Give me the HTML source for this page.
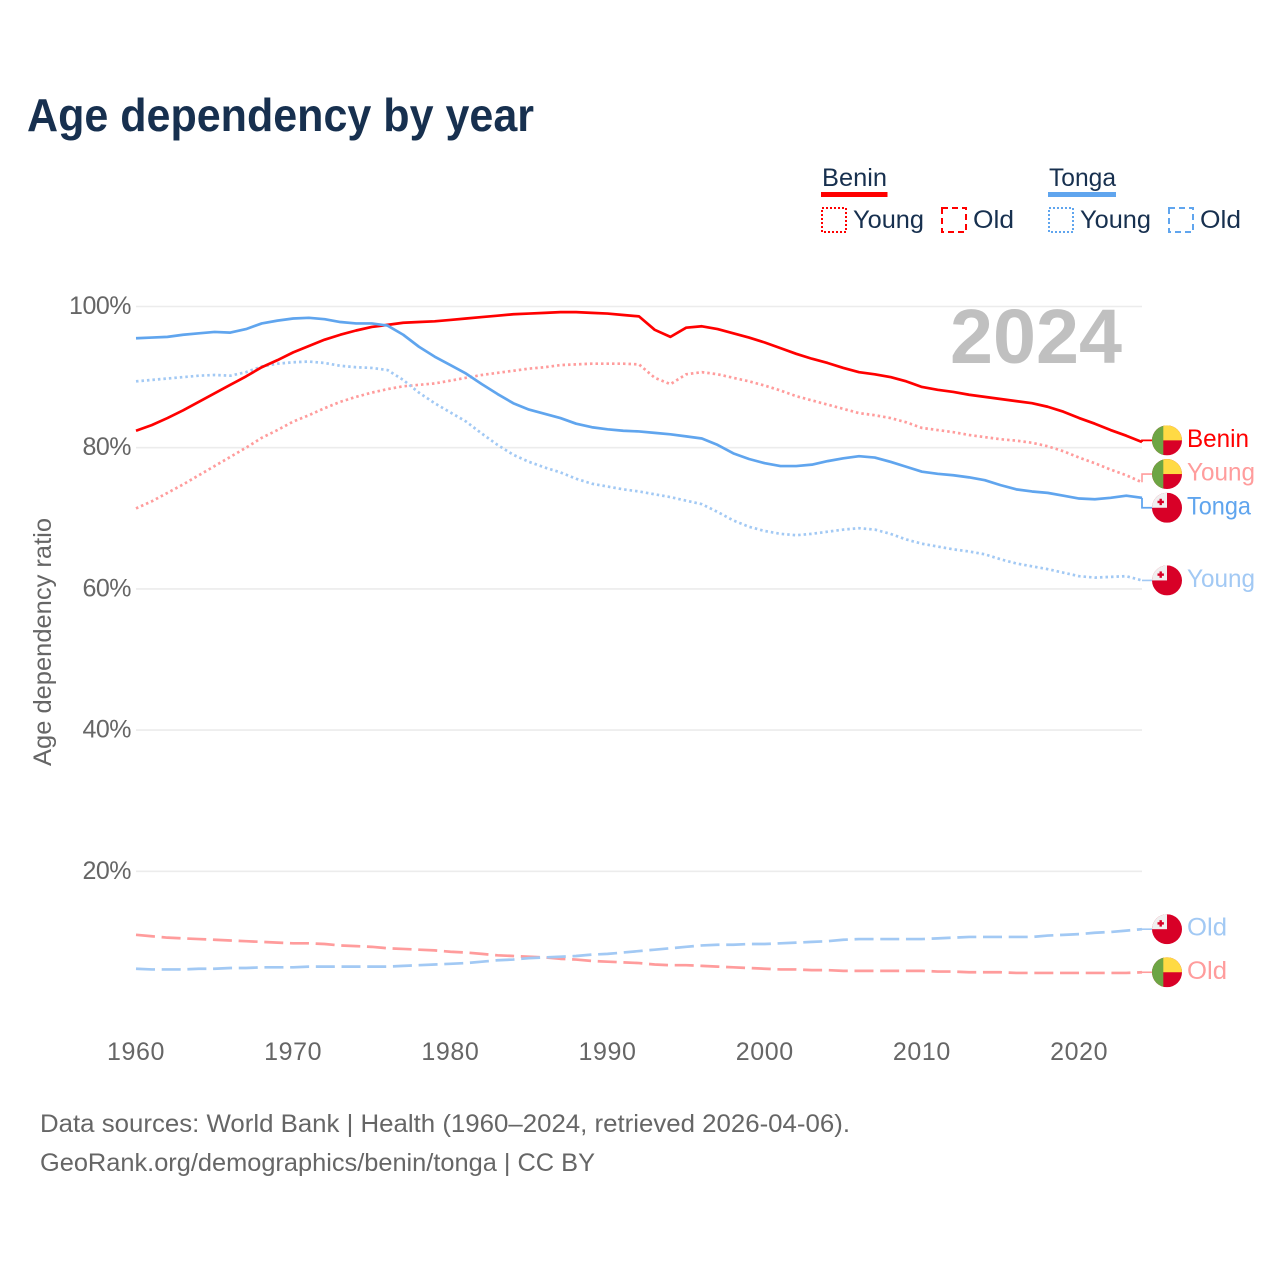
<!DOCTYPE html>
<html lang="en">
<head>
<meta charset="utf-8">
<title>Age dependency by year</title>
<style>
html,body{margin:0;padding:0;background:#fff;}
svg{display:block;font-family:"Liberation Sans",sans-serif;}
.legend-text{font-size:25px;fill:#17304f;}
.tick{font-size:25px;fill:#666;}
.foot{font-size:25px;fill:#666;}
.direct{font-size:25px;}
</style>
</head>
<body>
<svg id="chart" width="1280" height="1280" viewBox="0 0 1280 1280" xmlns="http://www.w3.org/2000/svg">
  <defs>
    <clipPath id="flag-clip"><circle cx="0" cy="0" r="15"/></clipPath>
  </defs>
  <rect width="1280" height="1280" fill="#fff"/>
  <text x="27" y="131" font-size="46" font-weight="700" fill="#17304f" textLength="507" lengthAdjust="spacingAndGlyphs">Age dependency by year</text>

  <g>
    <text class="legend-text" x="822" y="186" textLength="65" lengthAdjust="spacingAndGlyphs">Benin</text>
    <rect x="821" y="192" width="66.5" height="5" fill="#ff0000"/>
    <rect x="822" y="208" width="24" height="24" fill="none" stroke="#ff0000" stroke-width="2" stroke-dasharray="2 2"/>
    <text class="legend-text" x="853" y="228" textLength="71" lengthAdjust="spacingAndGlyphs">Young</text>
    <rect x="942" y="208" width="24" height="24" fill="none" stroke="#ff0000" stroke-width="2" stroke-dasharray="6 4"/>
    <text class="legend-text" x="973" y="228" textLength="41" lengthAdjust="spacingAndGlyphs">Old</text>

    <text class="legend-text" x="1049" y="186" textLength="67" lengthAdjust="spacingAndGlyphs">Tonga</text>
    <rect x="1048" y="192" width="68" height="5" fill="#60a5ee"/>
    <rect x="1049" y="208" width="24" height="24" fill="none" stroke="#60a5ee" stroke-width="2" stroke-dasharray="2 2"/>
    <text class="legend-text" x="1080" y="228" textLength="71" lengthAdjust="spacingAndGlyphs">Young</text>
    <rect x="1169" y="208" width="24" height="24" fill="none" stroke="#60a5ee" stroke-width="2" stroke-dasharray="6 4"/>
    <text class="legend-text" x="1200" y="228" textLength="41" lengthAdjust="spacingAndGlyphs">Old</text>
  </g>

  <g id="grid"></g>
  <g id="yticks"></g>
  <g id="xticks"></g>
  <text class="tick" transform="translate(51,642) rotate(-90)" text-anchor="middle" textLength="248" lengthAdjust="spacingAndGlyphs">Age dependency ratio</text>
  <text x="950" y="363" font-size="77" font-weight="700" fill="#c0c0c0" textLength="172" lengthAdjust="spacingAndGlyphs">2024</text>

  <g id="series"></g>
  <g id="labels"></g>

  <text class="foot" x="40" y="1132" textLength="810" lengthAdjust="spacingAndGlyphs">Data sources: World Bank | Health (1960–2024, retrieved 2026-04-06).</text>
  <text class="foot" x="40" y="1171" textLength="555" lengthAdjust="spacingAndGlyphs">GeoRank.org/demographics/benin/tonga | CC BY</text>
</svg>
<script>
const startYear = 1960;
const yTickValues = [20, 40, 60, 80, 100];
const xTickValues = [1960, 1970, 1980, 1990, 2000, 2010, 2020];

const beninTotal = [82.4,83.2,84.2,85.3,86.5,87.7,88.9,90.1,91.4,92.4,93.5,94.4,95.3,96.0,96.6,97.1,97.4,97.7,97.8,97.9,98.1,98.3,98.5,98.7,98.9,99.0,99.1,99.2,99.2,99.1,99.0,98.8,98.6,96.7,95.7,97.0,97.2,96.8,96.2,95.6,94.9,94.1,93.3,92.6,92.0,91.3,90.7,90.4,90.0,89.4,88.6,88.2,87.9,87.5,87.2,86.9,86.6,86.3,85.8,85.1,84.2,83.4,82.5,81.7,80.8];
const beninYoung = [71.4,72.4,73.6,74.8,76.1,77.4,78.7,80.0,81.4,82.5,83.7,84.6,85.6,86.5,87.2,87.8,88.3,88.7,88.9,89.1,89.5,89.9,90.3,90.6,90.9,91.2,91.4,91.7,91.8,91.9,91.9,91.9,91.8,89.9,89.0,90.4,90.7,90.4,89.9,89.4,88.8,88.1,87.3,86.7,86.1,85.5,84.9,84.6,84.2,83.6,82.8,82.5,82.2,81.8,81.5,81.2,81.0,80.7,80.2,79.5,78.6,77.8,76.9,76.1,75.1];
const beninOld = [11.0,10.8,10.6,10.5,10.4,10.3,10.2,10.1,10.0,9.9,9.8,9.8,9.7,9.5,9.4,9.3,9.1,9.0,8.9,8.8,8.6,8.5,8.3,8.1,8.0,7.9,7.8,7.6,7.5,7.3,7.2,7.1,7.0,6.8,6.7,6.7,6.6,6.5,6.4,6.3,6.2,6.1,6.1,6.0,6.0,5.9,5.9,5.9,5.9,5.9,5.9,5.8,5.8,5.7,5.7,5.7,5.6,5.6,5.6,5.6,5.6,5.6,5.6,5.6,5.7];
const tongaTotal = [95.5,95.6,95.7,96.0,96.2,96.4,96.3,96.8,97.6,98.0,98.3,98.4,98.2,97.8,97.6,97.6,97.3,96.0,94.3,92.9,91.7,90.5,89.0,87.6,86.3,85.4,84.8,84.2,83.4,82.9,82.6,82.4,82.3,82.1,81.9,81.6,81.3,80.4,79.2,78.4,77.8,77.4,77.4,77.6,78.1,78.5,78.8,78.6,78.0,77.3,76.6,76.3,76.1,75.8,75.4,74.7,74.1,73.8,73.6,73.2,72.8,72.7,72.9,73.2,72.9];
const tongaYoung = [89.4,89.6,89.8,90.0,90.2,90.3,90.2,90.7,91.5,91.9,92.1,92.2,92.0,91.6,91.4,91.3,91.0,89.6,87.8,86.3,85.0,83.7,82.0,80.4,79.0,78.0,77.2,76.5,75.6,74.9,74.5,74.1,73.8,73.4,73.0,72.5,72.0,70.9,69.7,68.8,68.2,67.8,67.6,67.8,68.1,68.4,68.6,68.4,67.8,67.0,66.4,66.0,65.6,65.3,64.9,64.2,63.6,63.2,62.8,62.3,61.8,61.6,61.7,61.8,61.2];
const tongaOld = [6.2,6.1,6.1,6.1,6.2,6.2,6.3,6.3,6.4,6.4,6.4,6.5,6.5,6.5,6.5,6.5,6.5,6.6,6.7,6.8,6.9,7.0,7.2,7.4,7.5,7.7,7.8,7.9,8.0,8.2,8.3,8.5,8.7,8.9,9.1,9.3,9.5,9.6,9.6,9.7,9.7,9.8,9.9,10.0,10.1,10.3,10.4,10.4,10.4,10.4,10.4,10.5,10.6,10.7,10.7,10.7,10.7,10.7,10.9,11.0,11.1,11.3,11.4,11.6,11.8];

const SVGNS = 'http://www.w3.org/2000/svg';
function xScale(year) { return 136 + (year - 1960) * (1006 / 64); }
function yScale(v) { return 1012.5 - v * 7.06; }
function make(tag, attrs, parent) {
  const el = document.createElementNS(SVGNS, tag);
  for (const k in attrs) el.setAttribute(k, attrs[k]);
  parent.appendChild(el);
  return el;
}
const gridG = document.getElementById('grid');
const yTickG = document.getElementById('yticks');
const xTickG = document.getElementById('xticks');
const seriesG = document.getElementById('series');
const labelsG = document.getElementById('labels');

yTickValues.forEach(function (v) {
  const line = make('line', {x1: 136, x2: 1142, y1: yScale(v), y2: yScale(v), stroke: '#ececec', 'stroke-width': 1.6}, gridG);
  
  
  const t = make('text', {x: 131, y: yScale(v) + 7.5, 'text-anchor': 'end', class: 'tick', 'letter-spacing': '-0.5'}, yTickG);
  t.textContent = v + '%';
  
  
});
xTickValues.forEach(function (yr) {
  const t = make('text', {x: xScale(yr), y: 1060, 'text-anchor': 'middle', class: 'tick', 'letter-spacing': '0.6'}, xTickG);
  t.textContent = yr;
  
  
});

const RED = '#ff0000', BLUE = '#60a5ee', PALE_RED = '#ff9c9c', PALE_BLUE = '#a2c9f4';
const DOT = '2.5 3', DASH = '19 6.7';
const seriesList = [
  {key: 'benin-young', label: 'Young', values: beninYoung, color: PALE_RED, dash: DOT, flag: 'benin'},
  {key: 'benin-old', label: 'Old', values: beninOld, color: PALE_RED, dash: DASH, flag: 'benin'},
  {key: 'tonga-young', label: 'Young', values: tongaYoung, color: PALE_BLUE, dash: DOT, flag: 'tonga'},
  {key: 'tonga-old', label: 'Old', values: tongaOld, color: PALE_BLUE, dash: DASH, flag: 'tonga'},
  {key: 'benin-total', label: 'Benin', values: beninTotal, color: RED, dash: '', flag: 'benin'},
  {key: 'tonga-total', label: 'Tonga', values: tongaTotal, color: BLUE, dash: '', flag: 'tonga'}
];

seriesList.forEach(function (s) {
  const pts = s.values.map(function (v, i) { return xScale(startYear + i).toFixed(2) + ',' + yScale(v).toFixed(2); }).join(' ');
  const attrs = {points: pts, fill: 'none', stroke: s.color, 'stroke-width': 2.7, 'stroke-linejoin': 'round'};
  if (s.dash) attrs['stroke-dasharray'] = s.dash;
  const line = make('polyline', attrs, seriesG);
  
  
});

/* push end labels apart: merge overlapping clusters around their mean */
function dodge(items, gap) {
  let clusters = items.slice().sort(function (a, b) { return a.target - b.target; })
    .map(function (it) { return {items: [it], mean: it.target}; });
  let merged = true;
  while (merged) {
    merged = false;
    for (let i = 0; i < clusters.length - 1; i++) {
      const a = clusters[i], b = clusters[i + 1];
      const aEnd = a.mean + (a.items.length - 1) * gap / 2;
      const bStart = b.mean - (b.items.length - 1) * gap / 2;
      if (bStart - aEnd < gap) {
        const all = a.items.concat(b.items);
        const mean = all.reduce(function (sum, it) { return sum + it.target; }, 0) / all.length;
        clusters.splice(i, 2, {items: all, mean: mean});
        merged = true;
        break;
      }
    }
  }
  clusters.forEach(function (c) {
    c.items.forEach(function (it, i) { it.y = c.mean + (i - (c.items.length - 1) / 2) * gap; });
  });
}

const labelWidth = {Benin: 62, Young: 68, Tonga: 64, Old: 40};
const endItems = seriesList.map(function (s) {
  return {s: s, target: yScale(s.values[s.values.length - 1])};
});
dodge(endItems, 33.7);

function drawFlag(kind, cx, cy, parent) {
  const g = make('g', {transform: 'translate(' + cx + ',' + cy + ')', 'clip-path': 'url(#flag-clip)'}, parent);
  if (kind === 'benin') {
    
    
    make('rect', {x: -15, y: -15, width: 30, height: 30, fill: '#d80027'}, g);
    make('rect', {x: -4, y: -15, width: 19, height: 15, fill: '#ffda44'}, g);
    make('rect', {x: -15, y: -15, width: 11.3, height: 30, fill: '#6da544'}, g);
  } else {
    
    
    make('rect', {x: -15, y: -15, width: 30, height: 30, fill: '#d80027'}, g);
    make('rect', {x: -15, y: -15, width: 15, height: 15, fill: '#f0f0f0'}, g);
    make('rect', {x: -7.5, y: -9, width: 2.4, height: 6.4, fill: '#d80027'}, g);
    make('rect', {x: -9.5, y: -7, width: 6.4, height: 2.4, fill: '#d80027'}, g);
  }
}

endItems.forEach(function (it) {
  const s = it.s;
  const endX = xScale(startYear + s.values.length - 1);
  const attrs = {
    points: endX + ',' + it.target.toFixed(2) + ' ' + endX + ',' + it.y.toFixed(2) + ' 1152,' + it.y.toFixed(2),
    fill: 'none', stroke: s.color, 'stroke-width': s.dash ? 1.6 : 1.8
  };
  const c = make('polyline', attrs, labelsG);
  
  
  drawFlag(s.flag, 1167, it.y, labelsG);
  const t = make('text', {
    x: 1187, y: it.y + 6.5, class: 'direct', fill: s.color,
    textLength: labelWidth[s.label], lengthAdjust: 'spacingAndGlyphs'
  }, labelsG);
  t.textContent = s.label;
  
  
});
</script>
</body>
</html>
